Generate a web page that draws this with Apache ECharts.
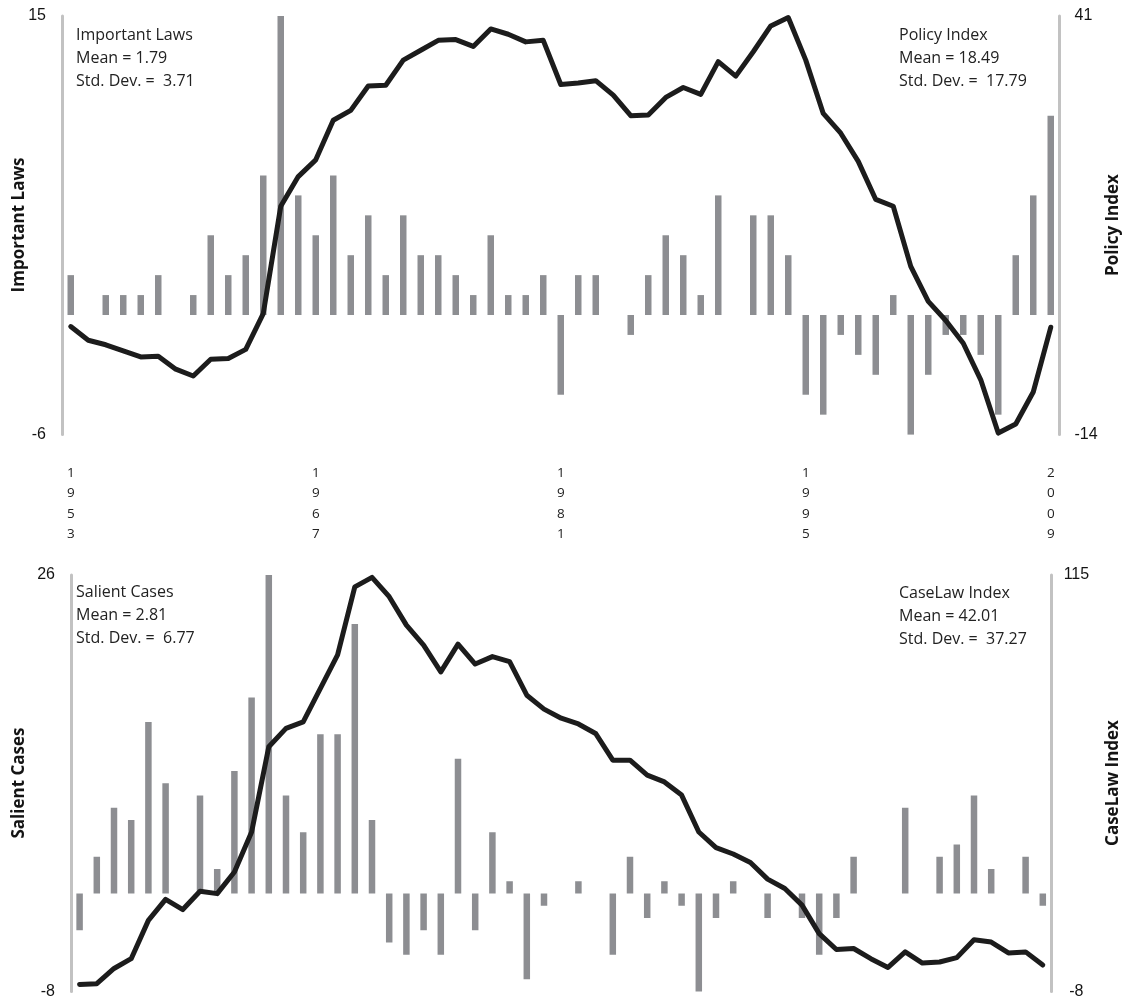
<!DOCTYPE html>
<html>
<head>
<meta charset="utf-8">
<title>Important Laws, Policy Index, Salient Cases and CaseLaw Index, 1953–2009</title>
<script src="https://cdn.jsdelivr.net/npm/echarts@6/dist/echarts.min.js"></script>
<style>
  html, body { margin: 0; padding: 0; background: #ffffff; }
  #chart { width: 1127px; height: 1005px; }
</style>
</head>
<body>
<div id="chart"></div>
<script>
// Years on the shared horizontal axis
const years = [
  1953, 1954, 1955, 1956, 1957, 1958, 1959, 1960, 1961, 1962,
  1963, 1964, 1965, 1966, 1967, 1968, 1969, 1970, 1971, 1972,
  1973, 1974, 1975, 1976, 1977, 1978, 1979, 1980, 1981, 1982,
  1983, 1984, 1985, 1986, 1987, 1988, 1989, 1990, 1991, 1992,
  1993, 1994, 1995, 1996, 1997, 1998, 1999, 2000, 2001, 2002,
  2003, 2004, 2005, 2006, 2007, 2008, 2009
];

// Upper panel: important laws (bars) and the cumulative policy index (line)
const importantLaws = [
  2, 0, 1, 1, 1, 2, 0, 1, 4, 2, 3, 7, 15, 6, 4, 7, 3, 5,
  2, 5, 3, 3, 2, 1, 4, 1, 1, 2, -4, 2, 2, 0, -1, 2, 4, 3, 1, 6, 0,
  5, 5, 3, -4, -5, -1, -2, -3, 1, -6, -3, -1, -1, -2, -5, 3, 6, 10
];
const policyIndex = [
  0.2, -1.6, -2.2, -3.0, -3.8, -3.7, -5.4, -6.3, -4.1, -4.0, -2.8, 1.9, 16.0, 19.9, 22.1, 27.3, 28.6, 31.8,
  31.9, 35.2, 36.5, 37.8, 37.9, 37.0, 39.3, 38.6, 37.6, 37.8, 32.0, 32.2, 32.5, 30.6, 27.9, 28.0, 30.3, 31.6, 30.7, 35.0, 33.1,
  36.3, 39.7, 40.8, 35.2, 28.2, 25.6, 21.9, 16.9, 16.0, 8.1, 3.5, 1.0, -2.0, -6.8, -13.8, -12.6, -8.4, 0.1
];

// Lower panel: salient cases (bars) and the cumulative case-law index (line)
const salientCases = [
  -3, 3, 7, 6, 14, 9, 0, 8, 2, 10, 16, 26, 8, 5, 13, 13, 22, 6,
  -4, -5, -3, -5, 11, -3, 5, 1, -7, -1, 0, 1, 0, -5, 3, -2, 1, -1, -8, -2, 1,
  0, -2, 0, -2, -5, -2, 3, 0, 0, 7, 0, 3, 4, 8, 2, 0, 3, -1
];
const caseLawIndex = [
  -5.9, -5.7, -1.2, 1.7, 13.0, 19.2, 16.2, 21.6, 20.9, 27.3, 39.1, 64.3, 69.7, 71.6, 81.5, 91.4, 111.5, 114.3,
  108.6, 100.2, 94.3, 86.4, 94.6, 88.7, 90.9, 89.4, 79.5, 75.4, 72.7, 71.0, 68.2, 60.3, 60.3, 55.9, 53.9, 50.0, 39.1, 34.5, 32.6,
  30.1, 25.2, 22.4, 17.5, 9.1, 4.4, 4.7, 1.7, -0.9, 3.7, 0.4, 0.7, 2.0, 7.3, 6.6, 3.4, 3.7, -0.2
];

// Axis extents (only the two end values are labelled)
const lawsRange = [-6, 15];
const policyRange = [-14, 41];
const casesRange = [-8, 26];
const caseLawRange = [-8, 115];

// Axis titles and the summary statistics printed inside each panel
const axisTitles = ['Important Laws', 'Policy Index', 'Salient Cases', 'CaseLaw Index'];
const notesTopLeft = ['Important Laws', 'Mean = 1.79', 'Std. Dev. =  3.71'];
const notesTopRight = ['Policy Index', 'Mean = 18.49', 'Std. Dev. =  17.79'];
const notesBottomLeft = ['Salient Cases', 'Mean = 2.81', 'Std. Dev. =  6.77'];
const notesBottomRight = ['CaseLaw Index', 'Mean = 42.01', 'Std. Dev. =  37.27'];

const BAR_COLOR = '#8d8e92';
const LINE_COLOR = '#1c1c1c';
const AXIS_COLOR = '#c2c2c2';
const TEXT_FONT = '"Open Sans", "Noto Sans", sans-serif';
const TICK_FONT = '"Liberation Sans", Arial, sans-serif';

function valueAxis(gridIndex, range, position, labelOpts) {
  return {
    type: 'value',
    gridIndex: gridIndex,
    position: position,
    min: range[0],
    max: range[1],
    interval: range[1] - range[0],
    splitLine: { show: false },
    axisTick: { show: false },
    axisLine: { show: true, onZero: false, lineStyle: { color: AXIS_COLOR, width: 3 } },
    axisLabel: Object.assign({
      color: '#141414',
      fontFamily: TICK_FONT,
      fontSize: 16
    }, labelOpts || {})
  };
}

function noteText(x, y, lines) {
  return {
    type: 'text',
    left: x,
    top: y,
    silent: true,
    style: {
      text: lines.join('\n'),
      fill: '#222222',
      font: '16px ' + TEXT_FONT,
      lineHeight: 23
    }
  };
}

// Vertical axis title, read bottom-to-top, centred on (cx, cy)
function axisTitle(cx, cy, label) {
  return {
    type: 'text',
    x: cx,
    y: cy,
    rotation: Math.PI / 2,
    silent: true,
    style: {
      text: label,
      fill: '#141414',
      font: 'bold 17px ' + TEXT_FONT,
      align: 'center',
      verticalAlign: 'middle'
    }
  };
}

const chart = echarts.init(document.getElementById('chart'), null, { renderer: 'canvas' });

chart.setOption({
  backgroundColor: '#ffffff',
  animation: false,
  grid: [
    { left: 62, top: 16, width: 997.5, height: 418.6, outerBoundsMode: 'none' },
    { left: 71, top: 575, width: 980.4, height: 416.5, outerBoundsMode: 'none' }
  ],
  xAxis: [
    {
      type: 'category',
      gridIndex: 0,
      data: years,
      axisLine: { show: false },
      axisTick: { show: false },
      axisLabel: {
        interval: 13,
        margin: 28,
        color: '#222222',
        fontFamily: TEXT_FONT,
        fontSize: 13.5,
        lineHeight: 20.5,
        formatter: function (v) { return String(v).split('').join('\n'); }
      }
    },
    {
      type: 'category',
      gridIndex: 1,
      data: years,
      axisLine: { show: false },
      axisTick: { show: false },
      axisLabel: { show: false }
    }
  ],
  yAxis: [
    valueAxis(0, lawsRange, 'left', { margin: 16 }),
    valueAxis(0, policyRange, 'right', { margin: 15 }),
    valueAxis(1, casesRange, 'left', { margin: 16 }),
    valueAxis(1, caseLawRange, 'right', { margin: 25, align: 'center' })
  ],
  series: [
    {
      name: 'Important Laws',
      type: 'bar',
      xAxisIndex: 0,
      yAxisIndex: 0,
      data: importantLaws,
      barWidth: 6.5,
      itemStyle: { color: BAR_COLOR },
      z: 2
    },
    {
      name: 'Policy Index',
      type: 'line',
      xAxisIndex: 0,
      yAxisIndex: 1,
      data: policyIndex,
      symbol: 'none',
      lineStyle: { color: LINE_COLOR, width: 5, cap: 'round', join: 'round' },
      z: 3
    },
    {
      name: 'Salient Cases',
      type: 'bar',
      xAxisIndex: 1,
      yAxisIndex: 2,
      data: salientCases,
      barWidth: 6.5,
      itemStyle: { color: BAR_COLOR },
      z: 2
    },
    {
      name: 'CaseLaw Index',
      type: 'line',
      xAxisIndex: 1,
      yAxisIndex: 3,
      data: caseLawIndex,
      symbol: 'none',
      lineStyle: { color: LINE_COLOR, width: 5, cap: 'round', join: 'round' },
      z: 3
    }
  ],
  graphic: [
    axisTitle(19, 225, axisTitles[0]),
    axisTitle(1113, 225, axisTitles[1]),
    axisTitle(19, 783, axisTitles[2]),
    axisTitle(1113, 783, axisTitles[3]),
    noteText(76, 24, notesTopLeft),
    noteText(899, 24, notesTopRight),
    noteText(76, 581, notesBottomLeft),
    noteText(899, 582, notesBottomRight)
  ]
});
</script>
</body>
</html>
